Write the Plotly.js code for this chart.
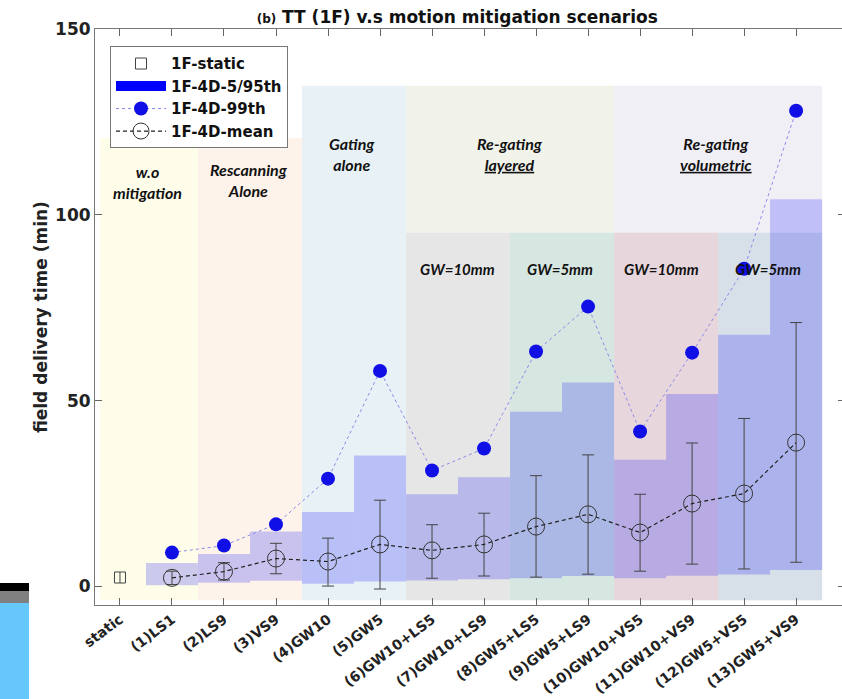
<!DOCTYPE html>
<html>
<head>
<meta charset="utf-8">
<script src="https://cdn.plot.ly/plotly-3.0.1.min.js"></script>
<style>
html,body{margin:0;padding:0;overflow:hidden;background:#fff;}
#chart{width:848px;height:699px;}
</style>
</head>
<body>
<div id="chart"></div>
<script>
// ---- data ----
const categories = ["static","(1)LS1","(2)LS9","(3)VS9","(4)GW10","(5)GW5","(6)GW10+LS5","(7)GW10+LS9",
  "(8)GW5+LS5","(9)GW5+LS9","(10)GW10+VS5","(11)GW10+VS9","(12)GW5+VS5","(13)GW5+VS9"];
const staticValue = 2.4;
const scenarioIdx = [1,2,3,4,5,6,7,8,9,10,11,12,13];
const p5  = [0.3, 1.0, 1.5, 0.7, 1.3, 1.6, 1.9, 2.2, 2.8, 2.2, 2.9, 3.2, 4.4];
const p95 = [6.3, 8.7, 14.8, 20.0, 35.2, 24.8, 29.4, 47.0, 54.9, 34.1, 51.8, 67.7, 104.2];
const p99 = [9.1, 11.0, 16.7, 29.0, 58.0, 31.2, 37.1, 63.2, 75.3, 41.7, 62.9, 85.5, 128.0];
const meanVals = [2.3, 4.0, 7.5, 6.7, 11.3, 9.7, 11.3, 16.1, 19.4, 14.5, 22.3, 25.0, 38.7];
const errHigh = [4.1, 6.4, 11.6, 13.0, 23.2, 16.6, 19.7, 29.8, 35.4, 24.8, 38.6, 45.2, 71.0];
const errLow  = [0.5, 1.7, 3.4, 0.1, -0.7, 2.2, 2.8, 2.5, 3.3, 4.1, 6.0, 4.7, 6.5];

// background groups: [x start, x end, top, color]
const groupStart = [-0.38, 1.5, 3.5, 5.5, 9.5];
const groupEnd   = [1.5, 3.5, 5.5, 9.5, 13.5];
const groupTop   = [120.7, 120.7, 134.7, 134.7, 134.7];
const groupColor = ["#fefde9","#fdf3ea","#e8f1f5","#f1f3ea","#f1eff6"];
const groupLabel = ["w.o<br>mitigation","Rescanning<br>Alone","Gating<br>alone","Re-gating<br><u>layered</u>","Re-gating<br><u>volumetric</u>"];
const groupLabelX = [0.52, 2.48, 4.46, 7.5, 11.46];
const groupLabelY = [108.9, 109.4, 116.4, 116.4, 116.4];
const subStart = [5.5, 7.5, 9.5, 11.5];
const subEnd   = [7.5, 9.5, 11.5, 13.5];
const subTop   = 95.2;
const subColor = ["#e6e6e6","#d6e6e0","#e7d6dc","#d7e0e8"];
const subLabel = ["GW=10mm","GW=5mm","GW=10mm","GW=5mm"];
const subLabelX = [6.48, 8.46, 10.42, 12.46];
const subLabelY = 85.5;
const regionBottom = -3.7;

// ---- build ----
const barHeights = p95.map((v,i)=>v-p5[i]);
const errPlus = errHigh.map((v,i)=>v-meanVals[i]);
const errMinus = errLow.map((v,i)=>meanVals[i]-v);

const traces = [
  {type:'scatter', mode:'markers', name:'1F-static', x:[0], y:[staticValue],
   marker:{symbol:'square-open', size:11, color:'#444', line:{width:1}},
   error_y:{type:'data', array:[1.5], arrayminus:[1.5], color:'#444', thickness:1, width:0}},
  {type:'bar', name:'1F-4D-5/95th', x:scenarioIdx, y:barHeights, base:p5, width:1,
   marker:{color:'rgba(0,0,255,0.2)', line:{width:0}}, showlegend:false},
  {type:'scatter', mode:'lines', name:'1F-4D-5/95th', x:[null], y:[null],
   line:{color:'#0000ff', width:14}},
  {type:'scatter', mode:'lines+markers', name:'1F-4D-99th', x:scenarioIdx, y:p99,
   marker:{color:'#1010e6', size:14}, line:{color:'#8a8ae8', width:1, dash:'dot'}},
  {type:'scatter', mode:'lines+markers', name:'1F-4D-mean', x:scenarioIdx, y:meanVals,
   marker:{symbol:'circle-open', size:17, color:'#333', line:{width:1}},
   line:{color:'#222', width:1.2, dash:'4px,3px'},
   error_y:{type:'data', array:errPlus, arrayminus:errMinus, color:'#444', thickness:1, width:6}}
];

const shapes = [];
groupStart.forEach((s,i)=>shapes.push({type:'rect', layer:'below', xref:'x', yref:'y',
  x0:s, x1:groupEnd[i], y0:regionBottom, y1:groupTop[i], fillcolor:groupColor[i], line:{width:0}}));
subStart.forEach((s,i)=>shapes.push({type:'rect', layer:'below', xref:'x', yref:'y',
  x0:s, x1:subEnd[i], y0:regionBottom, y1:subTop, fillcolor:subColor[i], line:{width:0}}));
// cropping artefact at bottom-left of the reference image
shapes.push({type:'rect', layer:'above', xref:'paper', yref:'paper', x0:-0.1267, x1:-0.0880, y0:0.0243, y1:0.0382, fillcolor:'#000', line:{width:0}});
shapes.push({type:'rect', layer:'above', xref:'paper', yref:'paper', x0:-0.1267, x1:-0.0880, y0:0.0035, y1:0.0243, fillcolor:'#808080', line:{width:0}});
shapes.push({type:'rect', layer:'above', xref:'paper', yref:'paper', x0:-0.1267, x1:-0.0880, y0:-0.17, y1:0.0035, fillcolor:'#66c8fa', line:{width:0}});

const annFont = {family:'Lato, "Open Sans", sans-serif', size:16, color:'#111', weight:'bold', style:'italic'};
const annotations = [];
groupLabel.forEach((t,i)=>annotations.push({x:groupLabelX[i], y:groupLabelY[i], xref:'x', yref:'y',
  text:t, showarrow:false, font:annFont}));
subLabel.forEach((t,i)=>annotations.push({x:subLabelX[i], y:subLabelY, xref:'x', yref:'y',
  text:t, showarrow:false, font:Object.assign({}, annFont, {size:15})}));

const layout = {
  width:848, height:699,
  margin:{l:95, r:3, t:29, b:94},
  paper_bgcolor:'#fff', plot_bgcolor:'#fff',
  title:{text:'<b><span style="font-size:12px">(b)</span> TT (1F) v.s motion mitigation scenarios</b>',
    x:0.483, xref:'paper', xanchor:'center', y:0.975, yanchor:'middle',
    font:{family:'DejaVu Sans', size:17, color:'#111'}},
  xaxis:{range:[-0.48, 13.94], tickvals:categories.map((c,i)=>i), ticktext:categories,
    tickangle:-37, ticks:'inside', ticklen:7, tickcolor:'#666', showline:true, linecolor:'#777',
    mirror:'ticks', showgrid:false, zeroline:false,
    tickfont:{family:'DejaVu Sans', size:14, color:'#222', weight:'bold'}},
  yaxis:{range:[-5,150], tickvals:[0,50,100,150], ticks:'inside', ticklen:7, tickcolor:'#666',
    showline:true, linecolor:'#777', mirror:'ticks', showgrid:false, zeroline:false,
    tickfont:{family:'DejaVu Sans', size:17, color:'#222', weight:'bold'},
    title:{text:'field delivery time (min)', standoff:3, font:{family:'DejaVu Sans', size:17, color:'#222', weight:'bold'}}},
  barmode:'overlay',
  showlegend:true,
  legend:{x:0.02, y:0.97, xanchor:'left', yanchor:'top', bgcolor:'#fff', bordercolor:'#777', borderwidth:1,
    font:{family:'DejaVu Sans', size:15, color:'#111', weight:'bold'}, itemwidth:50, tracegroupgap:0},
  shapes:shapes, annotations:annotations
};

Plotly.newPlot('chart', traces, layout, {displayModeBar:false, staticPlot:true});
</script>
</body>
</html>
